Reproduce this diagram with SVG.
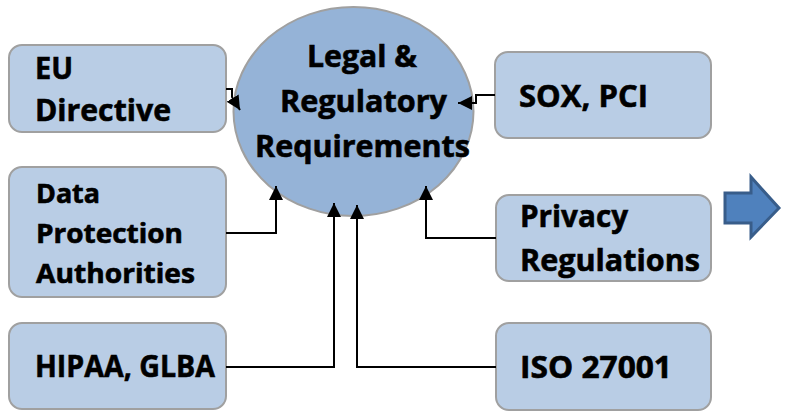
<svg xmlns="http://www.w3.org/2000/svg" width="788" height="412" viewBox="0 0 788 412">
  <style>
    .box { fill: #B9CDE5; stroke: #A0A0A0; stroke-width: 2; }
    .hub { fill: #95B3D7; stroke: #A0A0A0; stroke-width: 2; }
    .lbl { font-family: "Open Sans", "Liberation Sans", sans-serif; font-weight: bold; fill: #000; stroke: #000; stroke-width: 0.6; }
    .big { font-size: 31px; }
    .mid { font-size: 26px; }
    .wire { fill: none; stroke: #000; stroke-width: 2; marker-end: url(#tip); }
  </style>
  <defs>
    <marker id="tip" markerUnits="userSpaceOnUse" markerWidth="16" markerHeight="14" refX="14" refY="7" orient="auto">
      <path d="M0,0 L14,7 L0,14 Z" fill="#000"/>
    </marker>
  </defs>
  <rect width="788" height="412" fill="#fff"/>

  <g id="hub">
    <ellipse class="hub" cx="353.5" cy="111.5" rx="120" ry="104.5"/>
    <text class="lbl big" x="307" y="67" textLength="110" lengthAdjust="spacingAndGlyphs">Legal &amp;</text>
    <text class="lbl big" x="280" y="112" textLength="167" lengthAdjust="spacingAndGlyphs">Regulatory</text>
    <text class="lbl big" x="255" y="157" textLength="215" lengthAdjust="spacingAndGlyphs">Requirements</text>
  </g>

  <g id="eu-directive">
    <rect class="box" x="9" y="45" width="217" height="87" rx="13"/>
    <text class="lbl big" x="35" y="79" textLength="38" lengthAdjust="spacingAndGlyphs">EU</text>
    <text class="lbl big" x="35" y="121" textLength="136" lengthAdjust="spacingAndGlyphs">Directive</text>
  </g>

  <g id="data-protection">
    <rect class="box" x="9" y="167" width="217" height="130" rx="13"/>
    <text class="lbl mid" x="36" y="203" textLength="64" lengthAdjust="spacingAndGlyphs">Data</text>
    <text class="lbl mid" x="36" y="243" textLength="147" lengthAdjust="spacingAndGlyphs">Protection</text>
    <text class="lbl mid" x="36" y="283" textLength="159" lengthAdjust="spacingAndGlyphs">Authorities</text>
  </g>

  <g id="hipaa-glba">
    <rect class="box" x="9" y="323" width="217" height="86" rx="13"/>
    <text class="lbl big" x="35" y="377" textLength="180" lengthAdjust="spacingAndGlyphs">HIPAA, GLBA</text>
  </g>

  <g id="sox-pci">
    <rect class="box" x="495" y="52" width="216" height="86" rx="13"/>
    <text class="lbl big" x="519" y="107" textLength="129" lengthAdjust="spacingAndGlyphs">SOX, PCI</text>
  </g>

  <g id="privacy-regulations">
    <rect class="box" x="496" y="195" width="215" height="86" rx="13"/>
    <text class="lbl big" x="520" y="227" textLength="108" lengthAdjust="spacingAndGlyphs">Privacy</text>
    <text class="lbl big" x="520" y="271" textLength="180" lengthAdjust="spacingAndGlyphs">Regulations</text>
  </g>

  <g id="iso-27001">
    <rect class="box" x="496" y="323" width="215" height="87" rx="13"/>
    <text class="lbl big" x="520" y="378" textLength="152" lengthAdjust="spacingAndGlyphs">ISO 27001</text>
  </g>

  <g id="next-arrow">
    <path d="M725,193 H751 V177 L779,208 L751,237 V223 H725 Z" fill="#4F81BD" stroke="#385D8A" stroke-width="3" stroke-linejoin="miter"/>
  </g>

  <!-- elbow connectors, drawn last so their arrowheads sit on the ellipse -->
  <g id="connectors">
    <path class="wire" d="M226,89 H232 V97 L240,110"/>
    <path class="wire" d="M495,95 H476 V103 H458"/>
    <path class="wire" d="M226,233 H276 V186"/>
    <path class="wire" d="M226,367 H334 V203"/>
    <path class="wire" d="M496,367 H357 V205"/>
    <path class="wire" d="M496,238 H426 V186"/>
  </g>
</svg>
